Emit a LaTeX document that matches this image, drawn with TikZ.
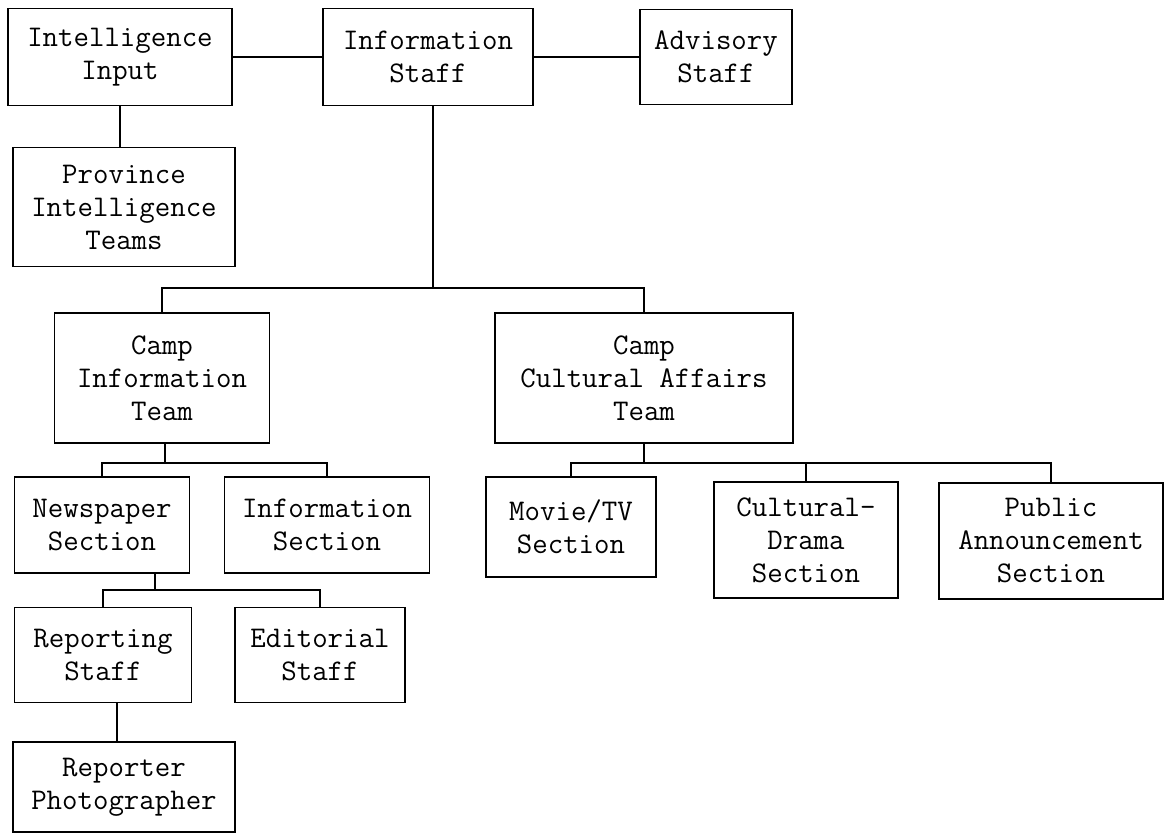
\documentclass[tikz,border=0pt]{standalone}
\usepackage{tikz}
\begin{document}
\begin{tikzpicture}[x=1pt,y=-1pt,
  orgbox/.style={draw=black, line width=1.4pt, align=center, inner sep=0pt,
    font=\fontsize{30}{33}\selectfont\ttfamily, text=black},
  link/.style={draw=black, line width=1.2pt}]
\useasboundingbox[fill=white] (0,0) rectangle (1167,833);
% top row
\node[orgbox, minimum width=224pt, minimum height=97pt] (intin) at (120,57) {Intelligence\\Input};
\node[orgbox, minimum width=210pt, minimum height=97pt] (infostaff) at (428,57) {Information\\Staff};
\node[orgbox, minimum width=152pt, minimum height=95pt] (advis) at (716,57) {Advisory\\Staff};
\node[orgbox, minimum width=222pt, minimum height=119pt] (prov) at (124,207) {Province\\Intelligence\\Teams};
% teams
\node[orgbox, minimum width=215pt, minimum height=130pt] (cit) at (162,378) {Camp\\Information\\Team};
\node[orgbox, minimum width=298pt, minimum height=130pt] (ccat) at (644,378) {Camp\\Cultural Affairs\\Team};
% sections
\node[orgbox, minimum width=175pt, minimum height=96pt] (news) at (102,525) {Newspaper\\Section};
\node[orgbox, minimum width=205pt, minimum height=96pt] (infosec) at (327,525) {Information\\Section};
\node[orgbox, minimum width=170pt, minimum height=100pt] (movie) at (571,527) {Movie/TV\\Section};
\node[orgbox, minimum width=184pt, minimum height=116pt] (drama) at (806,540) {Cultural-\\Drama\\Section};
\node[orgbox, minimum width=224pt, minimum height=116pt] (public) at (1051,541) {Public\\Announcement\\Section};
% staff
\node[orgbox, minimum width=177pt, minimum height=95pt] (rep) at (103,655) {Reporting\\Staff};
\node[orgbox, minimum width=170pt, minimum height=95pt] (edit) at (320,655) {Editorial\\Staff};
\node[orgbox, minimum width=222pt, minimum height=90pt] (photo) at (124,787) {Reporter\\Photographer};
% bar levels
\coordinate (b1) at (0,288);
\coordinate (b2) at (0,463);
\coordinate (b3) at (0,590);
\coordinate (b4) at (0,463);
% connectors
\draw[link] (intin) -- (infostaff);
\draw[link] (infostaff) -- (advis);
\draw[link] (intin.south) -- (intin.south |- prov.north);
\draw[link] ([xshift=5pt]infostaff.south) -- ([xshift=5pt]infostaff.south |- b1);
\draw[link] (cit.north) |- (ccat.north |- b1) -- (ccat.north);
\draw[link] ([xshift=3pt]cit.south) -- ([xshift=3pt]cit.south |- b2);
\draw[link] (news.north) |- (infosec.north |- b2) -- (infosec.north);
\draw[link] ([xshift=53pt]news.south) -- ([xshift=53pt]news.south |- b3);
\draw[link] (rep.north) |- (edit.north |- b3) -- (edit.north);
\draw[link] ([xshift=14pt]rep.south) -- ([xshift=14pt]rep.south |- photo.north);
\draw[link] (ccat.south) -- (ccat.south |- b4);
\draw[link] (movie.north) |- (public.north |- b4) -- (public.north);
\draw[link] (drama.north) -- (drama.north |- b4);
\end{tikzpicture}
\end{document}
